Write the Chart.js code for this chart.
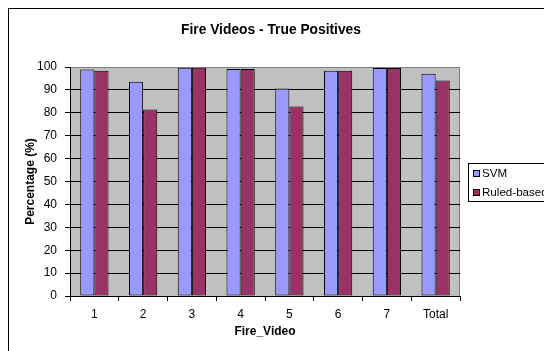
<!DOCTYPE html>
<html>
<head>
<meta charset="utf-8">
<script src="https://cdn.jsdelivr.net/npm/chart.js@4/dist/chart.umd.min.js"></script>
<style>
  html, body { margin: 0; padding: 0; background: #fff; }
  #wrap { width: 544px; height: 351px; }
</style>
</head>
<body>
<div id="wrap"><canvas id="c" width="544" height="351"></canvas></div>
<script>
// Detection rates per fire video
const categories = ['1', '2', '3', '4', '5', '6', '7', 'Total'];
const svmValues = [98.9, 93.6, 99.7, 99.1, 90.6, 98.4, 99.6, 97.1];
const ruleValues = [98.4, 81.4, 99.7, 99.1, 82.7, 98.4, 99.6, 94.1];
const seriesNames = ['SVM', 'Ruled-based'];
const yTicks = [0, 10, 20, 30, 40, 50, 60, 70, 80, 90, 100];

const FONT = 'Liberation Sans, Arial, sans-serif';

// Frame, plot background, heading and legend box
const decor = {
  id: 'decor',
  beforeDraw(chart) {
    const { ctx, chartArea: a } = chart;
    ctx.save();
    ctx.fillStyle = '#fff';
    ctx.fillRect(0, 0, chart.width, chart.height);
    ctx.strokeStyle = '#000';
    ctx.lineWidth = 1;
    ctx.strokeRect(8.5, 8.5, 700, 500);
    ctx.fillStyle = '#C0C0C0';
    ctx.fillRect(a.left, a.top, a.right - a.left, a.bottom - a.top);
    ctx.strokeStyle = '#808080';
    ctx.beginPath();
    ctx.moveTo(a.left, a.top + 0.5);
    ctx.lineTo(a.right - 0.5, a.top + 0.5);
    ctx.lineTo(a.right - 0.5, a.bottom);
    ctx.stroke();
    ctx.restore();
  },
  afterDraw(chart) {
    const { ctx } = chart;
    ctx.save();
    ctx.fillStyle = '#000';
    ctx.font = 'bold 13.8px ' + FONT;
    ctx.textAlign = 'center';
    ctx.textBaseline = 'middle';
    ctx.fillText('Fire Videos - True Positives', 271, 30);

    // legend
    ctx.fillStyle = '#fff';
    ctx.fillRect(468, 163, 120, 38);
    ctx.strokeStyle = '#000';
    ctx.lineWidth = 1;
    ctx.strokeRect(468.5, 163.5, 120, 38);
    ctx.font = '11.6px ' + FONT;
    ctx.textAlign = 'left';
    chart.data.datasets.forEach((ds, i) => {
      const cy = 173.5 + i * 19;
      ctx.fillStyle = ds.backgroundColor;
      ctx.fillRect(473.5, cy - 3, 6, 6);
      ctx.strokeStyle = '#000';
      ctx.strokeRect(473.5, cy - 3, 6, 6);
      ctx.fillStyle = '#000';
      ctx.fillText(ds.label, 482, cy);
    });
    ctx.restore();
  }
};

new Chart(document.getElementById('c'), {
  type: 'bar',
  data: {
    labels: categories,
    datasets: [
      { label: seriesNames[0], data: svmValues, backgroundColor: '#9999FF',
        borderColor: '#000', borderWidth: 1, borderSkipped: false },
      { label: seriesNames[1], data: ruleValues, backgroundColor: '#993366',
        borderColor: '#000', borderWidth: 1, borderSkipped: false }
    ]
  },
  options: {
    responsive: false,
    animation: false,
    layout: { padding: { left: 0, right: 0, top: 67, bottom: 0 } },
    datasets: { bar: { categoryPercentage: 0.58, barPercentage: 1.0 } },
    plugins: {
      legend: { display: false },
      title: { display: false },
      tooltip: { enabled: false }
    },
    scales: {
      x: {
        offset: true,
        grid: { display: true, drawOnChartArea: false, drawTicks: true, tickLength: 5,
                color: '#000', offset: true },
        border: { display: true, color: '#000', width: 1 },
        ticks: { color: '#000', font: { family: FONT, size: 12 }, padding: 6, maxRotation: 0 },
        title: { display: true, text: 'Fire_Video', color: '#000',
                 font: { family: FONT, size: 12, weight: 'bold' },
                 padding: { top: 0, bottom: 12.4 } },
        afterFit(s) { s.height = 55; }
      },
      y: {
        min: 0, max: 100,
        afterBuildTicks(s) { s.ticks = yTicks.map(v => ({ value: v })); },
        grid: {
          color: ctx => (ctx.tick && ctx.tick.value === 100 ? '#808080' : '#000'),
          tickColor: '#000', tickLength: 5, drawTicks: true
        },
        border: { display: true, color: '#000', width: 1 },
        ticks: { color: '#000', font: { family: FONT, size: 12 }, padding: 8 },
        title: { display: true, text: 'Percentage (%)', color: '#000',
                 font: { family: FONT, size: 12, weight: 'bold' },
                 padding: { top: 23.4, bottom: 0 } },
        afterFit(s) { s.width = 70; }
      },
      spacer: {
        type: 'linear', position: 'right', display: true,
        grid: { display: false }, border: { display: false },
        ticks: { display: false }, title: { display: false },
        afterFit(s) { s.width = 84; }
      }
    }
  },
  plugins: [decor]
});
</script>
</body>
</html>
